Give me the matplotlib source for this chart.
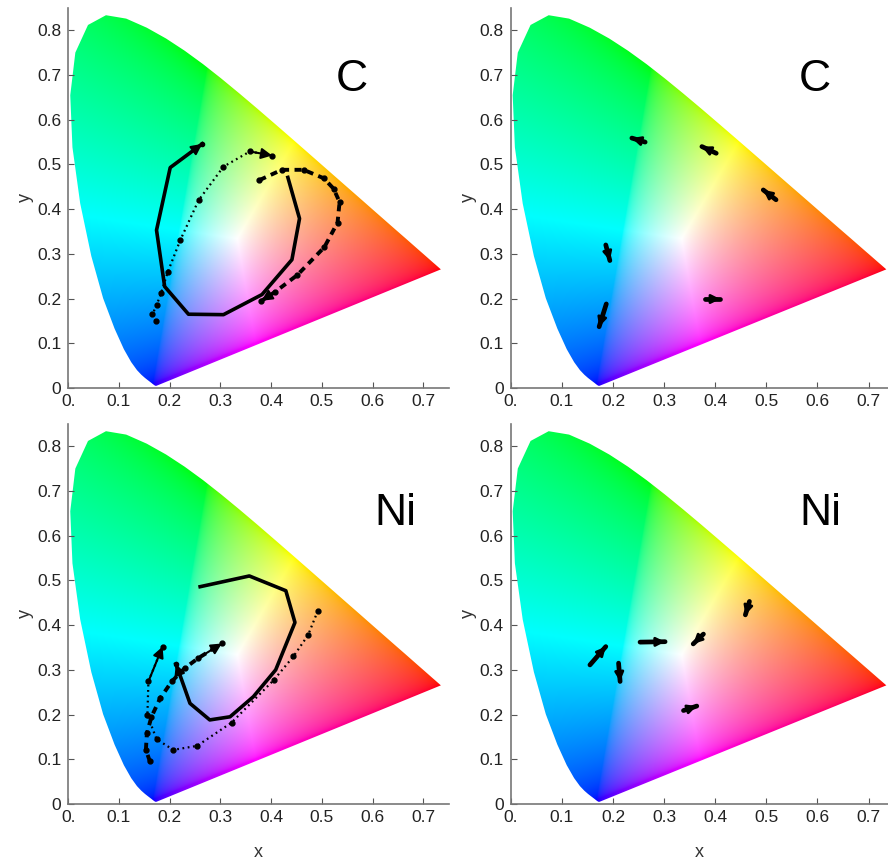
import numpy as np
import matplotlib
matplotlib.use('Agg')
import matplotlib.pyplot as plt
from matplotlib.patches import Polygon

plt.rcParams['font.family'] = ['Liberation Sans', 'DejaVu Sans']

# CIE 1931 spectral locus, 380-700 nm in 5 nm steps
locus_x = [0.1741, 0.1740, 0.1738, 0.1736, 0.1733, 0.1730, 0.1726, 0.1721, 0.1714,
           0.1703, 0.1689, 0.1669, 0.1644, 0.1611, 0.1566, 0.1510, 0.1440, 0.1355,
           0.1241, 0.1096, 0.0913, 0.0687, 0.0454, 0.0235, 0.0082, 0.0039, 0.0139,
           0.0389, 0.0743, 0.1142, 0.1547, 0.1929, 0.2296, 0.2658, 0.3016, 0.3373,
           0.3731, 0.4087, 0.4441, 0.4788, 0.5125, 0.5448, 0.5752, 0.6029, 0.6270,
           0.6482, 0.6658, 0.6801, 0.6915, 0.7006, 0.7079, 0.7140, 0.7190, 0.7230,
           0.7260, 0.7283, 0.7300, 0.7311, 0.7320, 0.7327, 0.7334, 0.7344, 0.7347]
locus_y = [0.0050, 0.0050, 0.0049, 0.0049, 0.0048, 0.0048, 0.0048, 0.0048, 0.0051,
           0.0058, 0.0069, 0.0086, 0.0109, 0.0138, 0.0177, 0.0227, 0.0297, 0.0399,
           0.0578, 0.0868, 0.1327, 0.2007, 0.2950, 0.4127, 0.5384, 0.6548, 0.7502,
           0.8120, 0.8338, 0.8262, 0.8059, 0.7816, 0.7543, 0.7243, 0.6923, 0.6589,
           0.6245, 0.5896, 0.5547, 0.5202, 0.4866, 0.4544, 0.4242, 0.3965, 0.3725,
           0.3514, 0.3340, 0.3197, 0.3083, 0.2993, 0.2920, 0.2859, 0.2809, 0.2770,
           0.2740, 0.2717, 0.2700, 0.2689, 0.2680, 0.2673, 0.2666, 0.2656, 0.2653]

# C: colour trajectories
c_solid_x = [0.433, 0.456, 0.441, 0.382, 0.306, 0.237, 0.190, 0.174, 0.201, 0.264]
c_solid_y = [0.471, 0.379, 0.287, 0.209, 0.164, 0.165, 0.227, 0.353, 0.493, 0.546]
c_dot_x = [0.172, 0.166, 0.174, 0.183, 0.196, 0.221, 0.257, 0.306, 0.358, 0.402]
c_dot_y = [0.150, 0.165, 0.185, 0.212, 0.259, 0.331, 0.420, 0.495, 0.529, 0.520]
c_dash_x = [0.377, 0.421, 0.464, 0.504, 0.523, 0.535, 0.531, 0.505, 0.452, 0.408, 0.381]
c_dash_y = [0.465, 0.488, 0.488, 0.469, 0.446, 0.416, 0.370, 0.315, 0.253, 0.215, 0.195]

# Ni: colour trajectories
ni_solid_x = [0.260, 0.357, 0.429, 0.447, 0.409, 0.365, 0.319, 0.279, 0.240, 0.220, 0.212]
ni_solid_y = [0.486, 0.510, 0.477, 0.406, 0.300, 0.240, 0.195, 0.188, 0.225, 0.289, 0.313]
ni_dot_x = [0.492, 0.473, 0.444, 0.405, 0.322, 0.254, 0.207, 0.174, 0.156, 0.158, 0.186]
ni_dot_y = [0.432, 0.378, 0.330, 0.277, 0.182, 0.130, 0.121, 0.145, 0.199, 0.274, 0.352]
ni_dash_x = [0.161, 0.153, 0.155, 0.164, 0.181, 0.204, 0.230, 0.256, 0.303]
ni_dash_y = [0.095, 0.121, 0.158, 0.195, 0.236, 0.274, 0.304, 0.326, 0.359]

# short drifts (start x, start y, end x, end y)
c_drift_x0 = [0.263, 0.402, 0.519, 0.186, 0.187, 0.380]
c_drift_y0 = [0.550, 0.525, 0.421, 0.320, 0.188, 0.199]
c_drift_x1 = [0.237, 0.374, 0.494, 0.194, 0.173, 0.410]
c_drift_y1 = [0.559, 0.540, 0.443, 0.285, 0.137, 0.199]

ni_drift_x0 = [0.155, 0.211, 0.253, 0.377, 0.467, 0.338]
ni_drift_y0 = [0.311, 0.315, 0.362, 0.380, 0.453, 0.209]
ni_drift_x1 = [0.186, 0.214, 0.302, 0.357, 0.459, 0.364]
ni_drift_y1 = [0.352, 0.274, 0.363, 0.358, 0.423, 0.219]

XMAX, YMAX = 0.75, 0.85


def gamut_image(n=700):
    gx = np.linspace(0, XMAX, n)
    gy = np.linspace(0, YMAX, n)
    xx, yy = np.meshgrid(gx, gy)
    yy = np.clip(yy, 1e-3, None)
    XYZ = np.stack([xx / yy, np.ones_like(xx), (1 - xx - yy) / yy], axis=-1)
    # XYZ -> CIE RGB (equal-energy white)
    M = np.array([[2.3646, -0.8965, -0.4681],
                  [-0.5152, 1.4264, 0.0888],
                  [0.0052, -0.0144, 1.0092]])
    rgb = np.clip(XYZ @ M.T, 0, None)
    rgb /= rgb.max(axis=-1, keepdims=True)
    rgb = np.where(rgb <= 0.0031308, 12.92 * rgb, 1.055 * rgb ** (1 / 2.4) - 0.055)
    return np.clip(rgb, 0, 1)


RGB = gamut_image()


def setup(ax, label, lx, ly, xlabel):
    im = ax.imshow(RGB, origin='lower', extent=[0, XMAX, 0, YMAX],
                   interpolation='bilinear', aspect='auto', zorder=0)
    poly = Polygon(np.column_stack([locus_x, locus_y]), closed=True,
                   transform=ax.transData, facecolor='none', edgecolor='none')
    ax.add_patch(poly)
    im.set_clip_path(poly)
    ax.set_xlim(0, XMAX)
    ax.set_ylim(0, YMAX)
    ax.set_xticks(np.arange(0, 0.71, 0.1))
    ax.set_xticklabels(['0.', '0.1', '0.2', '0.3', '0.4', '0.5', '0.6', '0.7'])
    ax.set_yticks(np.arange(0, 0.81, 0.1))
    ax.set_yticklabels(['0', '0.1', '0.2', '0.3', '0.4', '0.5', '0.6', '0.7', '0.8'])
    ax.tick_params(direction='in', length=4, color='#555555', labelsize=12.5,
                   labelcolor='#222222')
    ax.tick_params(axis='x', pad=4)
    ax.tick_params(axis='y', pad=5)
    for s in ['top', 'right']:
        ax.spines[s].set_visible(False)
    for s in ['left', 'bottom']:
        ax.spines[s].set_color('#777777')
        ax.spines[s].set_linewidth(1.2)
    ax.set_ylabel('y', fontsize=13, color='#333333', labelpad=2)
    if xlabel:
        ax.set_xlabel('x', fontsize=13, color='#333333', labelpad=14)
    ax.text(lx, ly, label, fontsize=32, ha='center', va='center', color='black')


def arrow_end(ax, xs, ys):
    ax.annotate('', xy=(xs[-1], ys[-1]), xytext=(xs[-2], ys[-2]),
                arrowprops=dict(arrowstyle='-|>', color='black', lw=1.5,
                                mutation_scale=16, shrinkA=0, shrinkB=0))


def trajectories(ax, sx, sy, dx, dy, ex, ey):
    ax.plot(sx, sy, '-', color='black', lw=2.6)
    ax.plot(sx[-1], sy[-1], 'o', color='black', ms=3)
    arrow_end(ax, sx, sy)
    ax.plot(dx, dy, ':', color='black', lw=1.6, dashes=(0.8, 1.6))
    ax.plot(dx, dy, 'o', color='black', ms=3.5)
    arrow_end(ax, dx, dy)
    ax.plot(ex, ey, '--', color='black', lw=2.8, dashes=(1.8, 1.4))
    ax.plot(ex, ey, 'o', color='black', ms=3.5)
    arrow_end(ax, ex, ey)


def drifts(ax, x0, y0, x1, y1):
    for a, b, c, d in zip(x0, y0, x1, y1):
        ax.plot([a, c], [b, d], '-', color='black', lw=3.4, solid_capstyle='round')
        ax.annotate('', xy=(c, d), xytext=(a, b),
                    arrowprops=dict(arrowstyle='-|>', color='black', lw=2,
                                    mutation_scale=13, shrinkA=0, shrinkB=0))


fig = plt.figure(figsize=(8.88, 8.67), dpi=100)
ax1 = fig.add_axes([0.0769, 0.5525, 0.4283, 0.4383])
ax2 = fig.add_axes([0.5751, 0.5525, 0.4249, 0.4383])
ax3 = fig.add_axes([0.0769, 0.0727, 0.4283, 0.4383])
ax4 = fig.add_axes([0.5751, 0.0727, 0.4249, 0.4383])

setup(ax1, 'C', 0.56, 0.69, False)
setup(ax2, 'C', 0.595, 0.69, False)
setup(ax3, 'Ni', 0.645, 0.65, True)
setup(ax4, 'Ni', 0.605, 0.65, True)
for ax in (ax2, ax4):
    ax.set_xlim(0, 0.738)

trajectories(ax1, c_solid_x, c_solid_y, c_dot_x, c_dot_y, c_dash_x, c_dash_y)
trajectories(ax3, ni_solid_x, ni_solid_y, ni_dot_x, ni_dot_y, ni_dash_x, ni_dash_y)
drifts(ax2, c_drift_x0, c_drift_y0, c_drift_x1, c_drift_y1)
drifts(ax4, ni_drift_x0, ni_drift_y0, ni_drift_x1, ni_drift_y1)

fig.savefig('out.png', dpi=100)
